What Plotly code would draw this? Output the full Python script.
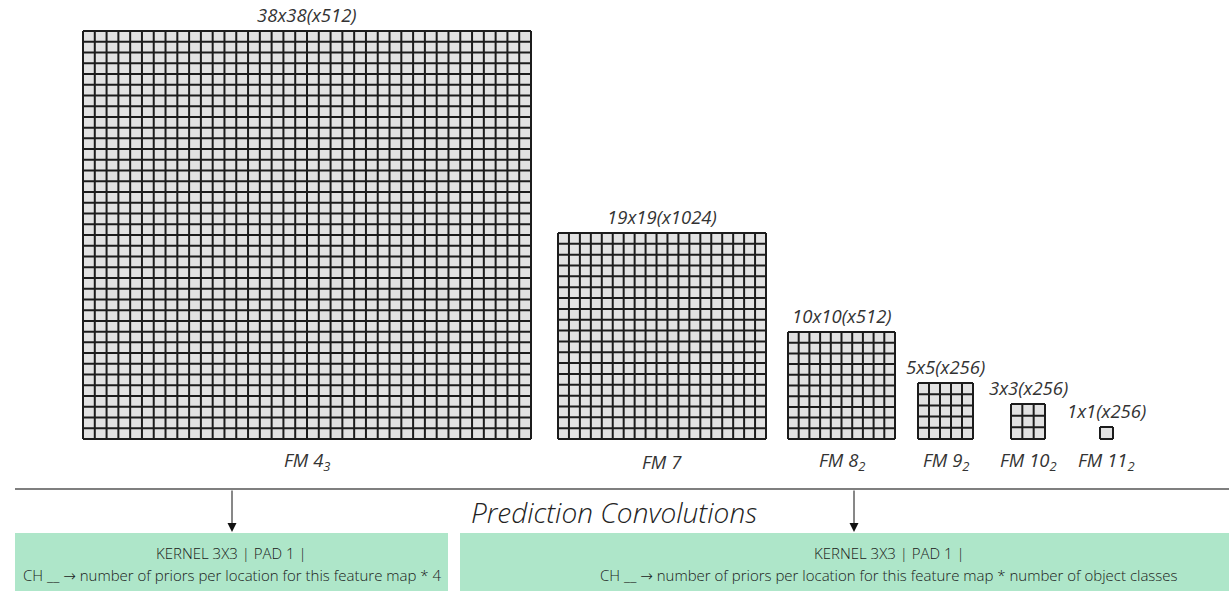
import plotly.graph_objects as go

# ---- data ----
fm_names = ["FM 4<sub>3</sub>", "FM 7", "FM 8<sub>2</sub>", "FM 9<sub>2</sub>", "FM 10<sub>2</sub>", "FM 11<sub>2</sub>"]
grid_n = [38, 19, 10, 5, 3, 1]
channels = [512, 1024, 512, 256, 256, 256]
section_title = "Prediction Convolutions"
box_line1 = ["KERNEL 3X3 | PAD 1 |", "KERNEL 3X3 | PAD 1 |"]
box_line2 = ["CH __ \u2192 number of priors per location for this feature map * 4",
             "CH __ \u2192 number of priors per location for this feature map * number of object classes"]

# ---- layout constants (pixels) ----
W, H = 1229, 591
grid_x0 = [83, 558, 788, 918, 1011, 1100]
grid_x1 = [531, 766, 895, 973, 1045, 1113]
grid_y0 = [31, 233, 332, 383, 404, 427]
grid_bottom = 439
rule_y = 489
boxes = [(15, 448), (460, 1318)]   # right box runs past the visible edge
box_top = 533
arrow_x = [232, 854]

LINE = "#1c1c1c"
FILL = "#e2e2e2"
GREEN = "#aee6c9"
TEXT = "#333333"
FONT = "Open Sans"

fig = go.Figure()
shapes = []
annotations = []

for name, n, ch, x0, x1, y0 in zip(fm_names, grid_n, channels, grid_x0, grid_x1, grid_y0):
    y1 = grid_bottom
    shapes.append(dict(type="rect", x0=x0, x1=x1, y0=y0, y1=y1, xref="x", yref="y",
                       fillcolor=FILL, line=dict(width=0), layer="below"))
    xs, ys = [], []
    for i in range(n + 1):
        xv = x0 + (x1 - x0) * i / n
        xs += [xv, xv, None]
        ys += [y0, y1, None]
        yv = y0 + (y1 - y0) * i / n
        xs += [x0, x1, None]
        ys += [yv, yv, None]
    fig.add_trace(go.Scatter(x=xs, y=ys, mode="lines", line=dict(color=LINE, width=2),
                             hoverinfo="skip", showlegend=False))
    cx = (x0 + x1) / 2
    annotations.append(dict(x=cx, y=y0 - 2, xref="x", yref="y", text=f"<i>{n}x{n}(x{ch})</i>",
                            showarrow=False, yanchor="bottom", font=dict(family=FONT, size=18.5, color=TEXT)))
    annotations.append(dict(x=cx, y=grid_bottom + 22, xref="x", yref="y", text=f"<i>{name}</i>",
                            showarrow=False, yanchor="middle", font=dict(family=FONT, size=18.5, color=TEXT)))

# horizontal rule
shapes.append(dict(type="line", x0=15, x1=W, y0=rule_y, y1=rule_y, xref="x", yref="y",
                   line=dict(color="#555555", width=1.5)))

# boxes
for (bx0, bx1), l1, l2 in zip(boxes, box_line1, box_line2):
    shapes.append(dict(type="rect", x0=bx0, x1=bx1, y0=box_top, y1=H + 5, xref="x", yref="y",
                       fillcolor=GREEN, line=dict(width=0), layer="below"))
    cx = (bx0 + bx1) / 2
    l2_html = l2.replace("\u2192", "<span style=\"font-family:DejaVu Sans\">\u2192</span>")
    annotations.append(dict(x=cx, y=553, xref="x", yref="y", text=l1, showarrow=False,
                            font=dict(family=FONT, size=15, color="#1a1a1a", weight=300)))
    annotations.append(dict(x=cx, y=575, xref="x", yref="y", text=l2_html, showarrow=False,
                            font=dict(family=FONT, size=15, color="#1a1a1a", weight=300)))

# arrows
for ax_ in arrow_x:
    annotations.append(dict(x=ax_, y=box_top - 1, ax=ax_, ay=rule_y, xref="x", yref="y",
                            axref="x", ayref="y", showarrow=True, arrowhead=2, arrowsize=1.8,
                            arrowwidth=1, arrowcolor="#111111", text=""))

annotations.append(dict(x=614, y=512, xref="x", yref="y", text=f"<i>{section_title}</i>",
                        showarrow=False, font=dict(family=FONT, size=28, color="#222222", weight=300)))

fig.update_layout(
    width=W, height=H, margin=dict(l=0, r=0, t=0, b=0),
    paper_bgcolor="white", plot_bgcolor="white",
    xaxis=dict(range=[0, W], visible=False, fixedrange=True),
    yaxis=dict(range=[H, 0], visible=False, fixedrange=True),
    shapes=shapes, annotations=annotations, showlegend=False,
)

fig.write_html("out.html", config={"displayModeBar": False},
               post_script="document.body.style.margin='0px';")
